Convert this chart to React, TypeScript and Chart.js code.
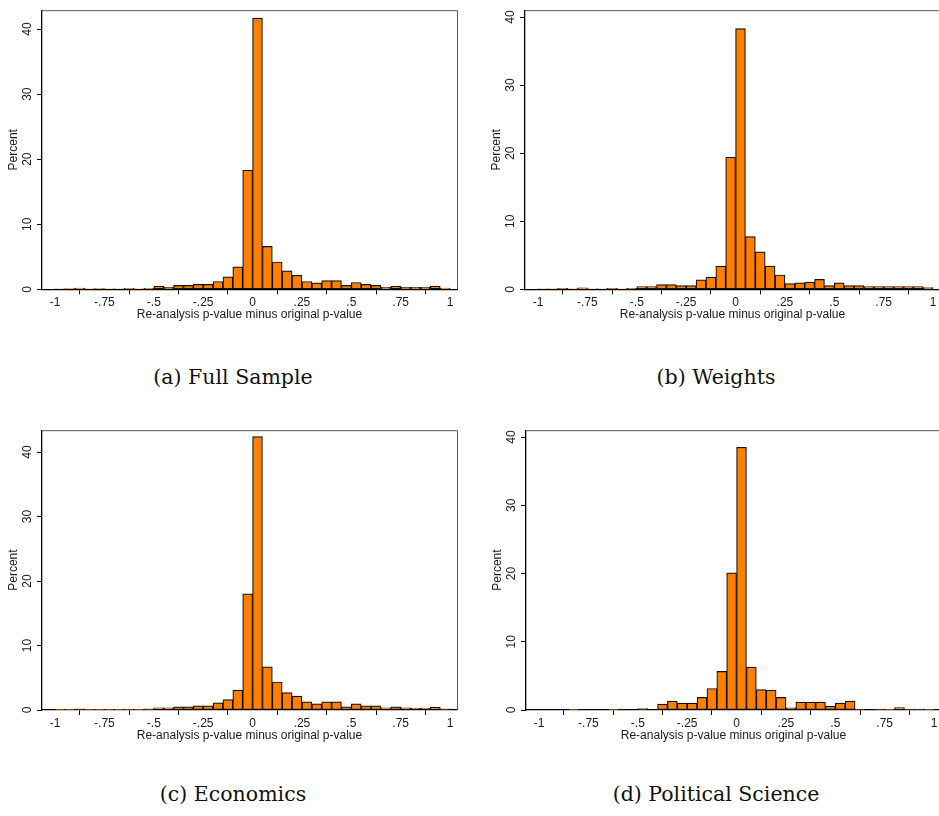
import React, { useEffect, useRef } from "react";
import { Chart, registerables } from "chart.js";
Chart.register(...registerables);

const binCenters = [
  -0.975, -0.925, -0.875, -0.825, -0.775, -0.725, -0.675, -0.625, -0.575, -0.525,
  -0.475, -0.425, -0.375, -0.325, -0.275, -0.225, -0.175, -0.125, -0.075, -0.025,
  0.025, 0.075, 0.125, 0.175, 0.225, 0.275, 0.325, 0.375, 0.425, 0.475,
  0.525, 0.575, 0.625, 0.675, 0.725, 0.775, 0.825, 0.875, 0.925, 0.975,
];
const xTickValues = [-1, -0.75, -0.5, -0.25, 0, 0.25, 0.5, 0.75, 1];
const xTickLabels = ["-1", "-.75", "-.5", "-.25", "0", ".25", ".5", ".75", "1"];
const yTickValues = [0, 10, 20, 30, 40];
const yTickLabels = ["0", "10", "20", "30", "40"];

const fullSample = [
  0.05, 0.1, 0.2, 0.05, 0.1, 0.05, 0.05, 0.15, 0.05, 0.15,
  0.45, 0.3, 0.6, 0.6, 0.75, 0.75, 1.2, 1.9, 3.45, 18.3,
  41.7, 6.6, 4.2, 2.85, 2.15, 1.2, 1.0, 1.35, 1.35, 0.6,
  1.05, 0.75, 0.6, 0.3, 0.45, 0.3, 0.3, 0.3, 0.45, 0.2,
];
const weights = [
  0.05, 0.05, 0.15, 0.05, 0.2, 0.05, 0.05, 0.15, 0.05, 0.15,
  0.4, 0.4, 0.7, 0.7, 0.55, 0.55, 1.4, 1.8, 3.4, 19.4,
  38.3, 7.75, 5.5, 3.4, 2.1, 0.85, 0.95, 1.05, 1.45, 0.55,
  0.95, 0.55, 0.55, 0.4, 0.4, 0.4, 0.4, 0.4, 0.4, 0.25,
];
const economics = [
  0.05, 0.05, 0.2, 0.05, 0.05, 0.05, 0.1, 0.05, 0.05, 0.2,
  0.35, 0.35, 0.5, 0.5, 0.65, 0.65, 1.1, 1.6, 3.1, 18.0,
  42.4, 6.7, 4.35, 2.7, 2.15, 1.25, 0.95, 1.25, 1.25, 0.5,
  0.95, 0.65, 0.65, 0.35, 0.5, 0.35, 0.3, 0.3, 0.45, 0.2,
];
const politicalScience = [
  0, 0, 0, 0.1, 0, 0, 0, 0.1, 0, 0,
  0.2, 0, 0.85, 1.3, 1.0, 1.0, 1.85, 3.15, 5.65, 20.1,
  38.5, 6.3, 3.0, 2.9, 1.85, 0.3, 1.15, 1.15, 1.15, 0.55,
  1.0, 1.3, 0.15, 0, 0.15, 0.05, 0.35, 0.15, 0.15, 0.05,
];

const xTitle = "Re-analysis p-value minus original p-value";
const yTitle = "Percent";
const captions = ["(a) Full Sample", "(b) Weights", "(c) Economics", "(d) Political Science"];

const CANVAS_W = 470;
const CANVAS_H = 330;
const Y_AXIS_W = 42;
const X_AXIS_H = 36;
const PLOT_W = 415;
const AXIS_FONT = "'Liberation Sans', Arial, Helvetica, sans-serif";
const AXIS_SIZE = 12;

const framePlugin = {
  id: "frame",
  afterDraw(chart: any) {
    const { ctx, chartArea } = chart;
    ctx.save();
    ctx.strokeStyle = "#555";
    ctx.lineWidth = 1;
    ctx.beginPath();
    ctx.moveTo(chartArea.left, chartArea.top + 0.5);
    ctx.lineTo(chartArea.right + 0.5, chartArea.top + 0.5);
    ctx.lineTo(chartArea.right + 0.5, chartArea.bottom);
    ctx.stroke();
    const ys = chart.scales.y;
    ctx.fillStyle = "#1a1a1a";
    ctx.font = AXIS_SIZE + "px " + AXIS_FONT;
    ctx.textAlign = "center";
    ctx.textBaseline = "middle";
    yTickValues.forEach((v, i) => {
      const py = ys.getPixelForValue(v);
      ctx.save();
      ctx.translate(chartArea.left - 14, py);
      ctx.rotate(-Math.PI / 2);
      ctx.fillText(yTickLabels[i], 0, 0);
      ctx.restore();
    });
    ctx.restore();
  },
};

type PanelProps = {
  values: number[];
  yMax: number;
  left: number;
  top: number;
  plotTop: number;
  plotBottom: number;
};

function Panel({ values, yMax, left, top, plotTop, plotBottom }: PanelProps) {
  const ref = useRef<HTMLCanvasElement | null>(null);
  useEffect(() => {
    if (!ref.current) return;
    const chart = new Chart(ref.current, {
      type: "bar",
      data: {
        datasets: [
          {
            data: binCenters.map((x, i) => ({ x, y: values[i] })),
            backgroundColor: "#ff8000",
            borderColor: "#111",
            borderWidth: 1.2,
            borderSkipped: false,
            barPercentage: 1,
            categoryPercentage: 1,
          },
        ],
      },
      options: {
        animation: false,
        responsive: false,
        devicePixelRatio: 1,
        layout: {
          padding: {
            left: 0,
            top: plotTop,
            right: CANVAS_W - Y_AXIS_W - PLOT_W,
            bottom: CANVAS_H - plotBottom - X_AXIS_H,
          },
        },
        plugins: { legend: { display: false }, tooltip: { enabled: false } },
        scales: {
          x: {
            type: "linear",
            offset: false,
            min: -1.066,
            max: 1.035,
            afterBuildTicks: (s: any) => {
              s.ticks = xTickValues.map((v) => ({ value: v }));
            },
            afterFit: (s: any) => {
              s.height = X_AXIS_H;
            },
            ticks: {
              autoSkip: false,
              maxRotation: 0,
              padding: 1.2,
              color: "#1a1a1a",
              font: { family: AXIS_FONT, size: AXIS_SIZE },
              callback: (v: any) => {
                const i = xTickValues.indexOf(Number(v));
                return i >= 0 ? xTickLabels[i] : "";
              },
            },
            grid: {
              display: true,
              drawOnChartArea: false,
              drawTicks: true,
              tickLength: 5,
              tickColor: "#000",
              tickWidth: 1,
            },
            border: { display: true, color: "#000", width: 1.3 },
            title: {
              display: true,
              text: xTitle,
              color: "#1a1a1a",
              font: { family: AXIS_FONT, size: AXIS_SIZE },
              padding: { top: 0, bottom: 3.1 },
            },
          },
          y: {
            type: "linear",
            min: 0,
            max: yMax,
            afterBuildTicks: (s: any) => {
              s.ticks = yTickValues.map((v) => ({ value: v }));
            },
            afterFit: (s: any) => {
              s.width = Y_AXIS_W;
            },
            ticks: { color: "rgba(0,0,0,0)", font: { family: AXIS_FONT, size: AXIS_SIZE } },
            grid: {
              display: true,
              drawOnChartArea: false,
              drawTicks: true,
              tickLength: 5,
              tickColor: "#000",
              tickWidth: 1,
            },
            border: { display: true, color: "#000", width: 1.3 },
            title: {
              display: true,
              text: yTitle,
              color: "#1a1a1a",
              font: { family: AXIS_FONT, size: AXIS_SIZE },
              padding: { top: 6.8, bottom: 0 },
            },
          },
        },
      },
      plugins: [framePlugin],
    } as any);
    return () => chart.destroy();
  }, [values, yMax, plotTop, plotBottom]);
  return (
    <canvas
      ref={ref}
      width={CANVAS_W}
      height={CANVAS_H}
      style={{ position: "absolute", left, top, width: CANVAS_W, height: CANVAS_H }}
    />
  );
}

function Caption({ text, cx, cy }: { text: string; cx: number; cy: number }) {
  return (
    <div
      style={{
        position: "absolute",
        left: cx - 150,
        top: cy - 13,
        width: 300,
        height: 26,
        lineHeight: "26px",
        textAlign: "center",
        fontFamily: "'DejaVu Serif', 'Liberation Serif', serif",
        fontSize: 20.5,
        color: "#111",
        whiteSpace: "nowrap",
      }}
    >
      {text}
    </div>
  );
}

export default function App() {
  return (
    <div
      style={{
        position: "absolute",
        left: 0,
        top: 0,
        width: 939,
        height: 816,
        overflow: "hidden",
        background: "#fff",
      }}
    >
      <Panel values={fullSample} yMax={42.9} left={0} top={0} plotTop={3.5} plotBottom={289.3} />
      <Panel values={weights} yMax={41} left={483} top={0} plotTop={4} plotBottom={289.3} />
      <Panel values={economics} yMax={43.4} left={0} top={420} plotTop={4.7} plotBottom={290} />
      <Panel values={politicalScience} yMax={41} left={484} top={420} plotTop={4.3} plotBottom={290} />
      <Caption text={captions[0]} cx={233} cy={377} />
      <Caption text={captions[1]} cx={716} cy={377} />
      <Caption text={captions[2]} cx={233} cy={794} />
      <Caption text={captions[3]} cx={716} cy={794} />
    </div>
  );
}
